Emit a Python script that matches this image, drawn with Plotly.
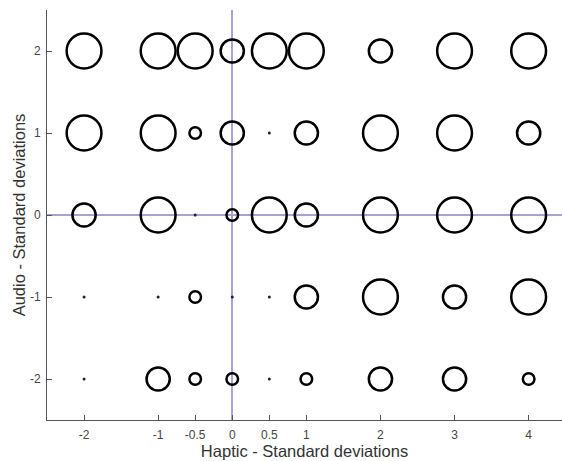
import plotly.graph_objects as go

haptic = [-2, -1, -0.5, 0, 0.5, 1, 2, 3, 4]
audio = [2, 1, 0, -1, -2]
# circle magnitude level at each (audio row, haptic column); 0 drawn as a dot
levels = [
    [3, 3, 3, 2, 3, 3, 2, 3, 3],
    [3, 3, 1, 2, 0, 2, 3, 3, 2],
    [2, 3, 0, 1, 3, 2, 3, 3, 3],
    [0, 0, 1, 0, 0, 2, 3, 2, 3],
    [0, 2, 1, 1, 0, 1, 2, 2, 1],
]
x_ticks = [-2, -1, -0.5, 0, 0.5, 1, 2, 3, 4]
x_tick_text = ["-2", "-1", "-0.5", "0", "0.5", "1", "2", "3", "4"]
y_ticks = [-2, -1, 0, 1, 2]
y_tick_text = ["-2", "-1", "0", "1", "2"]
ref_y = 0  # horizontal reference line

cx, cy, cv, dx, dy = [], [], [], [], []
for r, a in enumerate(audio):
    for c, h in enumerate(haptic):
        v = levels[r][c]
        if v > 0:
            cx.append(h); cy.append(a); cv.append(v)
        else:
            dx.append(h); dy.append(a)

fig = go.Figure()
fig.add_hline(y=ref_y, line=dict(color="#4a4aa6", width=1), layer="below")
fig.add_trace(go.Scatter(
    x=cx, y=cy, mode="markers", opacity=1,
    marker=dict(symbol="circle-open", size=cv, sizemode="diameter", sizeref=1/11.6,
                color="#000000", opacity=1, line=dict(width=2.5, color="#000000")),
    showlegend=False, hoverinfo="skip"))
fig.add_trace(go.Scatter(
    x=dx, y=dy, mode="markers", opacity=1,
    marker=dict(symbol="circle", size=3, color="#222222"),
    showlegend=False, hoverinfo="skip"))

font = "Liberation Sans, Arial, Helvetica, sans-serif"
axis_common = dict(showgrid=False, showline=True, linecolor="#555555", linewidth=1,
                   ticks="inside", ticklen=5, tickcolor="#555555", tickwidth=1,
                   tickfont=dict(family=font, size=12, color="#444444"),
                   title_font=dict(family=font, size=16.5, color="#333333"))

fig.update_layout(
    width=562, height=461,
    margin=dict(l=47, r=0, t=10, b=41),
    paper_bgcolor="white", plot_bgcolor="white",
    xaxis=dict(range=[-2.5, 4.45], tickvals=x_ticks, ticktext=x_tick_text,
               title=dict(text="Haptic - Standard deviations", standoff=0),
               zeroline=True, zerolinecolor="#a9a3d9", zerolinewidth=1.6,
               ticklabelstandoff=4, **axis_common),
    yaxis=dict(range=[-2.5, 2.5], tickvals=y_ticks, ticktext=y_tick_text,
               title=dict(text="Audio - Standard deviations", standoff=0),
               zeroline=False, ticklabelstandoff=3, **axis_common),
)

fig.write_html("out.html")
